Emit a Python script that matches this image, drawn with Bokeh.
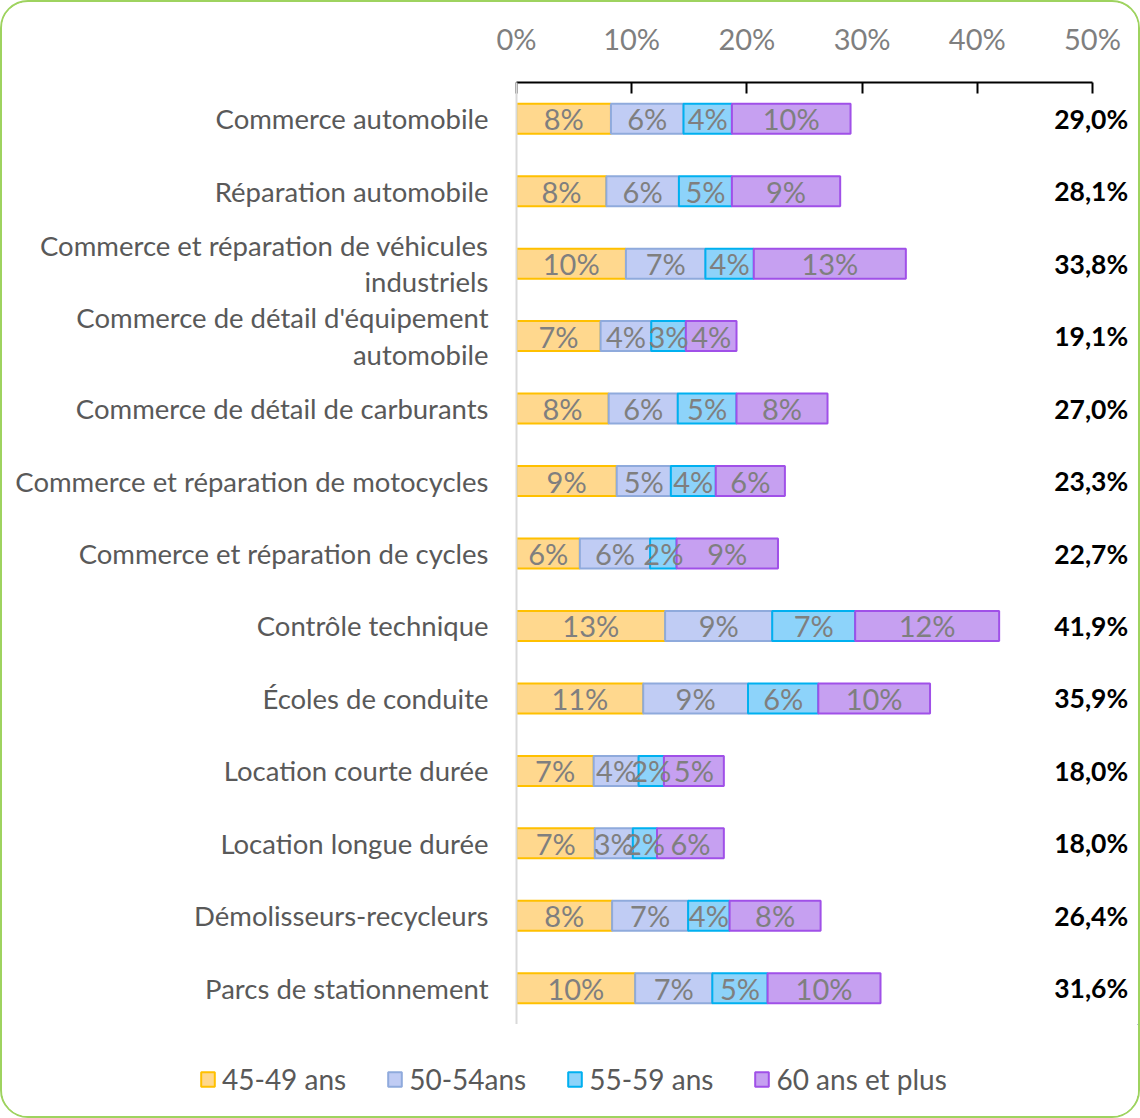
from bokeh.plotting import figure
from bokeh.layouts import column
from bokeh.models import ColumnDataSource, FactorRange, Range1d, FixedTicker, Legend, LegendItem
from bokeh.core.properties import value
from bokeh.embed import file_html
from bokeh.resources import INLINE

categories = [
    "Commerce automobile",
    "Réparation automobile",
    "Commerce et réparation de véhicules\nindustriels",
    "Commerce de détail d'équipement\nautomobile",
    "Commerce de détail de carburants",
    "Commerce et réparation de motocycles",
    "Commerce et réparation de cycles",
    "Contrôle technique",
    "Écoles de conduite",
    "Location courte durée",
    "Location longue durée",
    "Démolisseurs-recycleurs",
    "Parcs de stationnement",
]
series_names = ["45-49 ans", "50-54ans", "55-59 ans", "60 ans et plus"]
a45 = [8.2, 7.8, 9.5, 7.3, 8.0, 8.7, 5.5, 12.9, 11.0, 6.7, 6.8, 8.3, 10.3]
a50 = [6.3, 6.3, 6.9, 4.4, 6.0, 4.7, 6.1, 9.3, 9.1, 3.9, 3.3, 6.6, 6.7]
a55 = [4.2, 4.6, 4.2, 3.0, 5.1, 3.9, 2.3, 7.2, 6.1, 2.2, 2.1, 3.6, 4.8]
a60 = [10.3, 9.4, 13.2, 4.4, 7.9, 6.0, 8.8, 12.5, 9.7, 5.2, 5.8, 7.9, 9.8]
totals = [29.0, 28.1, 33.8, 19.1, 27.0, 23.3, 22.7, 41.9, 35.9, 18.0, 18.0, 26.4, 31.6]
x_ticks = [0, 10, 20, 30, 40, 50]
x_tick_labels = ["0%", "10%", "20%", "30%", "40%", "50%"]

FONT = "Lato"
fills = ["#FFD88E", "#C0CCF4", "#8DD3FA", "#C6A0F1"]
borders = ["#FFC000", "#8FAADC", "#00B0F0", "#A050E8"]
keys = ["a45", "a50", "a55", "a60"]

data = {"cat": categories, "a45": a45, "a50": a50, "a55": a55, "a60": a60}
source = ColumnDataSource(data)

p = figure(
    width=1136, height=1022,
    y_range=FactorRange(factors=categories[::-1], range_padding=0),
    x_range=Range1d(0, 53.65),
    x_axis_location="above",
    output_backend="svg", toolbar_location=None,
    min_border_left=514, min_border_top=80, min_border_bottom=0, min_border_right=4,
)
p.frame_align = False
p.outline_line_color = None
p.xgrid.visible = False
p.ygrid.visible = False
p.background_fill_color = "white"
p.border_fill_color = "white"

renderers = p.hbar_stack(
    keys, y="cat", height=0.414, source=source,
    fill_color=fills, line_color=borders, line_width=2,
)

# segment labels
mid_x, mid_y, mid_t = [], [], []
for i, c in enumerate(categories):
    left = 0.0
    for k in keys:
        v = data[k][i]
        mid_x.append(left + v / 2)
        mid_y.append(c)
        mid_t.append(f"{round(v)}%")
        left += v
p.text(x=mid_x, y=mid_y, text=mid_t, text_align="center", text_baseline="middle",
       text_color="#7F7F7F", text_font=value(FONT), text_font_size="29px")

# totals
p.text(x=[53.1] * len(categories), y=categories,
       text=[f"{t:.1f}".replace(".", ",") + "%" for t in totals],
       text_align="right", text_baseline="middle", text_color="#000000",
       text_font=value(FONT), text_font_size="26.5px", text_font_style="bold")

xa = p.xaxis[0]
xa.ticker = FixedTicker(ticks=x_ticks)
xa.major_label_overrides = {t: l for t, l in zip(x_ticks, x_tick_labels)}
xa.bounds = (0, 50)
xa.axis_line_color = "#000000"
xa.axis_line_width = 2
xa.major_tick_line_color = "#000000"
xa.major_tick_line_width = 2
xa.major_tick_in = 11
xa.major_tick_out = 0
xa.minor_tick_line_color = None
xa.major_label_standoff = 27
xa.major_label_text_color = "#7F7F7F"
xa.major_label_text_font = FONT
xa.major_label_text_font_size = "29px"

ya = p.yaxis[0]
ya.axis_line_color = "#D9D9D9"
ya.axis_line_width = 2
ya.major_tick_line_color = None
ya.minor_tick_line_color = None
ya.major_label_standoff = 22
ya.major_label_text_color = "#595959"
ya.major_label_text_font = FONT
ya.major_label_text_font_size = "27.5px"
ya.major_label_text_line_height = 1.1

# legend strip
lp = figure(
    width=1136, height=92, x_range=Range1d(0, 1), y_range=Range1d(0, 1),
    x_axis_type=None, y_axis_type=None,
    output_backend="svg", toolbar_location=None,
    min_border=0, min_border_left=0, min_border_right=0, min_border_top=0, min_border_bottom=0,
)
lp.frame_align = False
lp.outline_line_color = None
lp.xgrid.visible = False
lp.ygrid.visible = False
lp.border_fill_color = "white"
swatches = [
    lp.hbar(y=[10], left=[10], right=[11], height=0.5, fill_color=f, line_color=b, line_width=2)
    for f, b in zip(fills, borders)
]
legend = Legend(
    items=[LegendItem(label=n, renderers=[r]) for n, r in zip(series_names, swatches)],
    orientation="horizontal", location=(197, 20),
    border_line_color=None, background_fill_alpha=0,
    padding=0, margin=0, spacing=40, label_standoff=6,
    glyph_width=17, glyph_height=18,
    label_text_color="#595959", label_text_font=FONT, label_text_font_size="28px",
)
lp.add_layout(legend, "center")

layout = column(p, lp, spacing=0,
                styles={"border": "2px solid #9ED35F", "border-radius": "28px",
                        "overflow": "hidden", "background-color": "white"})

open("out.html", "w").write(file_html(layout, INLINE))
